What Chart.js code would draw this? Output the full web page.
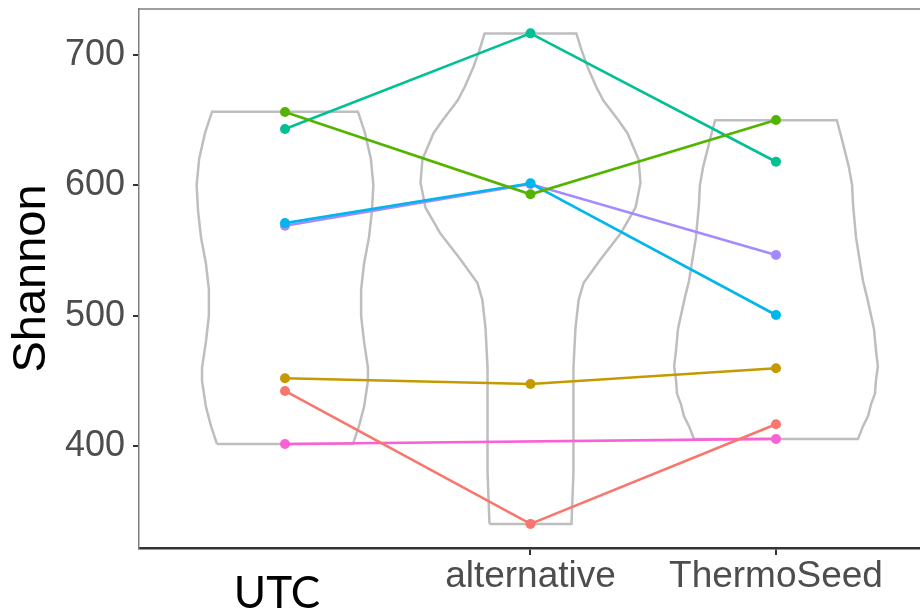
<!DOCTYPE html>
<html>
<head>
<meta charset="utf-8">
<script src="https://cdn.jsdelivr.net/npm/chart.js@4.4.0/dist/chart.umd.min.js"></script>
<style>
  html, body { margin: 0; padding: 0; background: #fff; }
  #wrap { width: 920px; height: 610px; }
</style>
</head>
<body>
<div id="wrap"><canvas id="violin-chart" width="920" height="610"></canvas></div>
<script>
// categories on the x axis (positions 1, 2, 3)
const categories = ["UTC", "alternative", "ThermoSeed"];
const yTicks = [400, 500, 600, 700];

// paired Shannon values per sample, one value per category (null = missing)
const sampleRed    = [442.2, 340.2, 416.6];
const sampleGold   = [452.0, 447.6, 459.6];
const sampleGreen  = [656.3, 593.1, 650.1];
const sampleTeal   = [643.2, 716.6, 618.1];
const sampleBlue   = [571.0, 601.6, 500.5];
const samplePurple = [569.0, 601.0, 546.5];
const samplePink   = [401.5, null, 405.4];

const sampleColors = ["#F8766D", "#C49A00", "#53B400", "#00C094", "#00B6EB", "#A58AFF", "#FB61D7"];

// violin outlines: Shannon level (bottom -> top) and half width in category units
const utcLevels    = [401.5, 415, 430, 450, 460, 480, 500, 520, 540, 560, 580, 600, 620, 640, 656.5];
const utcHalfWidth = [0.277, 0.301, 0.322, 0.338, 0.338, 0.322, 0.310, 0.310, 0.322, 0.342, 0.354, 0.360, 0.350, 0.326, 0.297];

const altLevels    = [340.2, 360, 380, 420, 460, 490, 512, 525, 543, 563, 583, 602, 620, 640, 650, 665, 675, 691, 706, 716.5];
const altHalfWidth = [0.167, 0.171, 0.175, 0.175, 0.175, 0.183, 0.196, 0.216, 0.285, 0.367, 0.428, 0.448, 0.440, 0.395, 0.358, 0.297, 0.269, 0.232, 0.204, 0.187];

const thermoLevels    = [405.4, 415, 423, 432, 440, 450, 461, 474, 490, 514, 527, 560, 585, 600, 614, 635, 650];
const thermoHalfWidth = [0.334, 0.354, 0.375, 0.387, 0.403, 0.407, 0.415, 0.407, 0.399, 0.371, 0.354, 0.326, 0.314, 0.310, 0.297, 0.269, 0.248];

// x label look (UTC was typed in another font in the original)
const labelStyle = [
  { font: "44px Lato", color: "#000000", below: 60, dx: -8 },
  { font: "37px 'Liberation Sans', Arial", color: "#4D4D4D", below: 39, dx: 0 },
  { font: "37px 'Liberation Sans', Arial", color: "#4D4D4D", below: 39, dx: 0 }
];

// build a closed outline: left side going up, right side going down, back to start
var violinOutline = (center, levels, halfWidth) => {
  const left = levels.map((y, i) => ({ x: center - halfWidth[i], y: y }));
  const right = levels.map((y, i) => ({ x: center + halfWidth[i], y: y })).reverse();
  return left.concat(right, [left[0]]);
};

var pairedLine = (values) =>
  values.map((v, i) => ({ x: i + 1, y: v }));

const violinDatasets = [
  violinOutline(1, utcLevels, utcHalfWidth),
  violinOutline(2, altLevels, altHalfWidth),
  violinOutline(3, thermoLevels, thermoHalfWidth)
].map((pts) => ({
  data: pts,
  showLine: true,
  borderColor: "#BEBEBE",
  borderWidth: 2.5,
  pointRadius: 0,
  fill: false,
  tension: 0,
  order: 10
}));

const samples = [sampleRed, sampleGold, sampleGreen, sampleTeal, sampleBlue, samplePurple, samplePink];
const lineDatasets = samples.map((vals, i) => ({
  data: pairedLine(vals),
  showLine: true,
  spanGaps: true,
  borderColor: sampleColors[i],
  backgroundColor: sampleColors[i],
  borderWidth: 2.6,
  pointRadius: 5,
  pointBorderWidth: 0,
  tension: 0,
  order: 1
}));

// panel top border + category labels
const framePlugin = {
  id: "frame",
  afterDraw(chart) {
    const { ctx, chartArea, scales } = chart;
    ctx.save();
    ctx.strokeStyle = "#7F7F7F";
    ctx.lineWidth = 1.5;
    ctx.beginPath();
    ctx.moveTo(chartArea.left, chartArea.top);
    ctx.lineTo(chartArea.right, chartArea.top);
    ctx.stroke();

    ctx.textAlign = "center";
    ctx.textBaseline = "alphabetic";
    categories.forEach((name, i) => {
      const st = labelStyle[i];
      ctx.font = st.font;
      ctx.fillStyle = st.color;
      ctx.fillText(name, scales.x.getPixelForValue(i + 1) + st.dx, chartArea.bottom + st.below);
    });
    ctx.restore();
  }
};

var noEdgePadding = (scale) => {
  scale.paddingTop = 0;
  scale.paddingBottom = 0;
  scale.paddingLeft = 0;
  scale.paddingRight = 0;
};

const config = {
  type: "scatter",
  data: { datasets: violinDatasets.concat(lineDatasets) },
  options: {
    responsive: false,
    animation: false,
    layout: { autoPadding: false, padding: { top: 9, right: 0, left: 0, bottom: 0 } },
    plugins: { legend: { display: false }, tooltip: { enabled: false } },
    scales: {
      x: {
        type: "linear",
        min: 0.4053,
        max: 3.5866,
        afterBuildTicks: (scale) => {
          scale.ticks = categories.map((c, i) => ({ value: i + 1 }));
        },
        afterFit: (scale) => { scale.height = 62; noEdgePadding(scale); },
        ticks: { display: false },
        grid: {
          drawOnChartArea: false,
          drawTicks: true,
          tickLength: 7,
          lineWidth: 2,
          color: (ctx) => (ctx.index === 0 ? "rgba(0,0,0,0)" : "#333333")
        },
        border: { color: "#333333", width: 2.5 }
      },
      y: {
        min: 321.7,
        max: 735.3,
        afterBuildTicks: (scale) => {
          scale.ticks = yTicks.map((v) => ({ value: v }));
        },
        afterFit: (scale) => { scale.width = 139; noEdgePadding(scale); },
        ticks: {
          color: "#4D4D4D",
          padding: 8,
          font: { family: "'Liberation Sans', Arial", size: 36 }
        },
        grid: {
          drawOnChartArea: false,
          drawTicks: true,
          tickLength: 6,
          lineWidth: 2,
          color: "#333333"
        },
        border: { color: "#7F7F7F", width: 1.5 },
        title: {
          display: true,
          text: "Shannon",
          color: "#000000",
          padding: { top: 4, bottom: 0 },
          font: { family: "'Liberation Sans', Arial", size: 47 }
        }
      }
    }
  },
  plugins: [framePlugin]
};

var violinChart = new Chart(document.getElementById("violin-chart").getContext("2d"), config);
</script>
</body>
</html>
